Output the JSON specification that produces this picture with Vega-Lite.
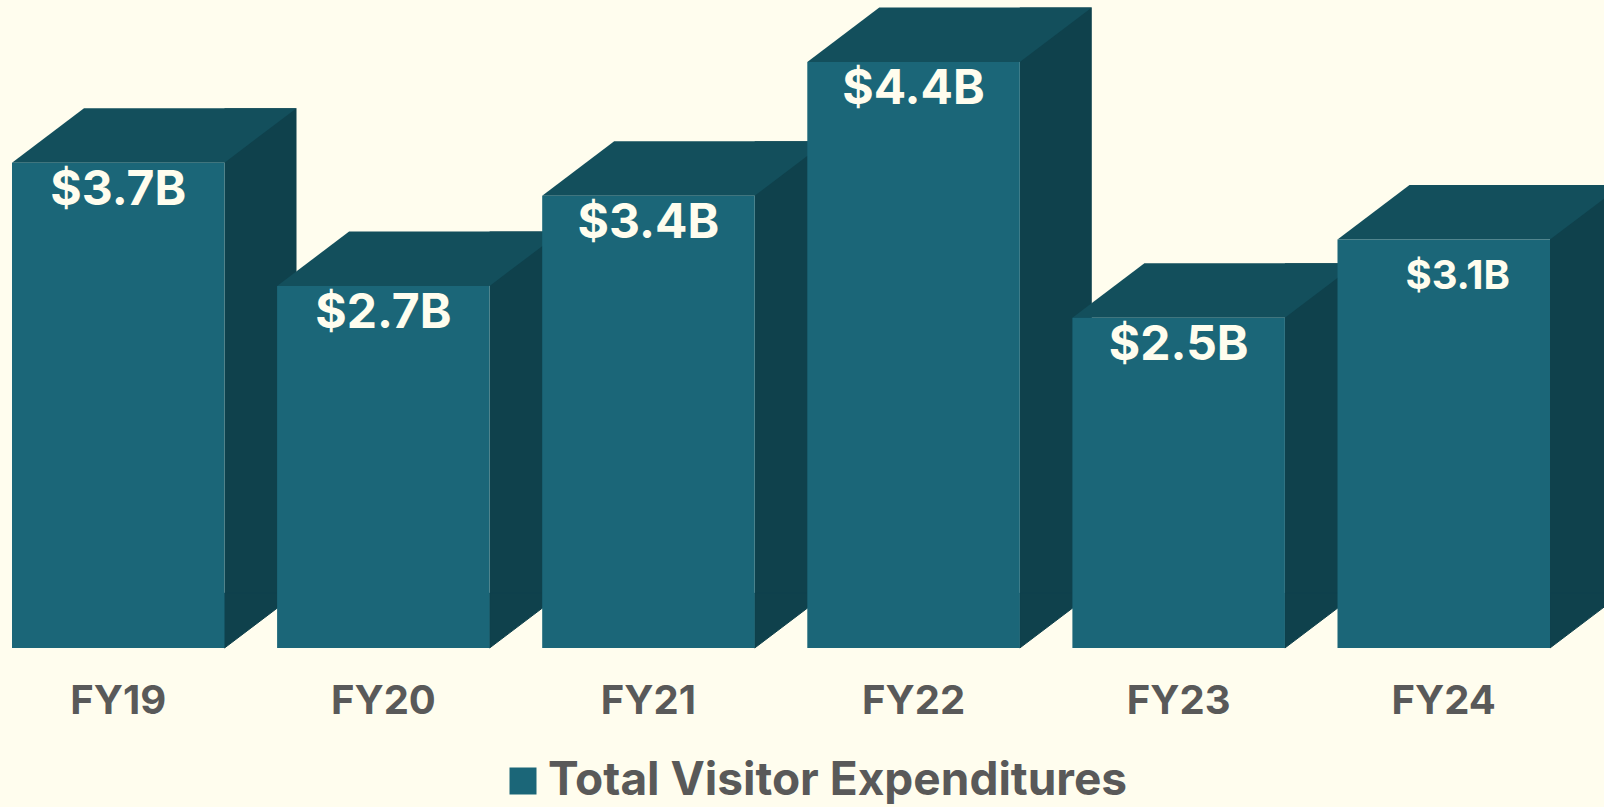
{
  "$schema": "https://vega.github.io/schema/vega-lite/v6.json",
  "width": 1562,
  "height": 648,
  "autosize": {"type": "none"},
  "padding": {"left": 0, "top": 0, "right": 42, "bottom": 159},
  "background": "#FFFDEE",
  "config": {"view": {"stroke": null}, "font": "Inter"},
  "data": {
    "values": [
      {"year": "FY19", "value": 3.66, "label": "$3.7B"},
      {"year": "FY20", "value": 2.73, "label": "$2.7B"},
      {"year": "FY21", "value": 3.41, "label": "$3.4B"},
      {"year": "FY22", "value": 4.42, "label": "$4.4B"},
      {"year": "FY23", "value": 2.49, "label": "$2.5B"},
      {"year": "FY24", "value": 3.08, "label": "$3.1B"}
    ]
  },
  "encoding": {
    "x": {
      "field": "year",
      "type": "nominal",
      "sort": null,
      "scale": {"paddingInner": 0.1984, "paddingOuter": 0.04527},
      "axis": {
        "title": null,
        "domain": false,
        "ticks": false,
        "tickSize": 0,
        "labelAngle": 0,
        "labelFont": "Inter",
        "labelFontSize": 40,
        "labelFontWeight": "bold",
        "labelColor": "#595959",
        "labelBaseline": "alphabetic",
        "labelPadding": 65,
        "grid": false
      }
    },
    "y": {
      "field": "value",
      "type": "quantitative",
      "scale": {"domain": [0, 4.887], "nice": false, "zero": true},
      "axis": null
    }
  },
  "layer": [
    {
      "mark": {"type": "bar", "width": 72, "xOffset": 142.25, "yOffset": -54.5, "y2Offset": -54.5, "color": "#0F414C"},
      "encoding": {"y2": {"datum": 0}}
    },
    {
      "mark": {"type": "point", "shape": "M1.0625,-0.55 L1.7825,-0.55 L1.7825,-0.545 L1.0625,0 Z", "size": 40000, "filled": true, "opacity": 1, "color": "#0F414C", "stroke": "#0F414C", "strokeWidth": 1},
      "encoding": {"y": {"datum": 0, "type": "quantitative"}}
    },
    {
      "mark": {"type": "point", "shape": "M-1.0625,0 L-0.3425,-0.545 L1.7825,-0.545 L1.0625,0 Z", "size": 40000, "filled": true, "opacity": 1, "color": "#134F5C", "strokeWidth": 0}
    },
    {
      "mark": {"type": "bar"},
      "encoding": {
        "y2": {"datum": 0},
        "color": {
          "datum": "Total Visitor Expenditures",
          "type": "nominal",
          "scale": {"range": ["#1B6678"]},
          "legend": {
            "title": null,
            "orient": "none",
            "legendX": 500,
            "legendY": 758,
            "direction": "horizontal",
            "symbolType": "square",
            "symbolSize": 729,
            "symbolStrokeWidth": 0,
            "labelFont": "Inter",
            "labelFontSize": 46,
            "labelFontWeight": "bold",
            "labelColor": "#595959",
            "labelOffset": 2,
            "labelLimit": 1000
          }
        }
      }
    },
    {
      "transform": [{"filter": "datum.year != 'FY24'"}],
      "mark": {"type": "text", "font": "Inter", "fontSize": 48, "fontWeight": "bold", "color": "#FFFDEE", "baseline": "alphabetic", "dy": 42},
      "encoding": {"text": {"field": "label"}}
    },
    {
      "transform": [{"filter": "datum.year == 'FY24'"}],
      "mark": {"type": "text", "font": "Inter", "fontSize": 40, "fontWeight": "bold", "color": "#FFFDEE", "baseline": "alphabetic", "dy": 49, "dx": 14},
      "encoding": {"text": {"field": "label"}}
    }
  ]
}
